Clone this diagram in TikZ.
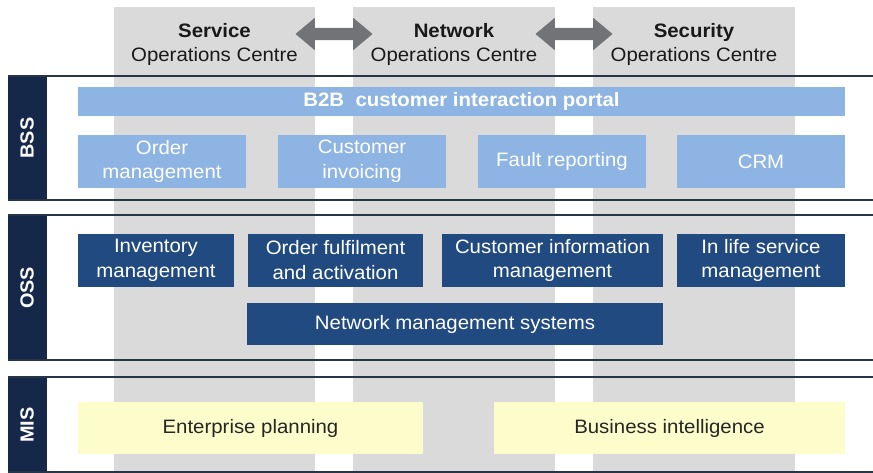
\documentclass[tikz,border=0pt]{standalone}
\usepackage{fontspec}
\setmainfont{Liberation Sans}[FakeStretch=1.05]
\usetikzlibrary{shapes.arrows}
\definecolor{colgray}{HTML}{DADADA}
\definecolor{arrgray}{HTML}{717376}
\definecolor{tabnavy}{HTML}{16284A}
\definecolor{linenavy}{HTML}{263648}
\definecolor{bsscol}{HTML}{8DB4E2}
\definecolor{osscol}{HTML}{214A80}
\definecolor{miscol}{HTML}{FDFDCB}
\tikzset{
	column/.style={fill=colgray},
	bandline/.style={draw=linenavy,line width=1.6bp},
	bandtab/.style={fill=tabnavy},
	bandlabel/.style={text=white,font=\fontsize{19}{22}\selectfont\bfseries,rotate=90},
	sysbox/.style={rectangle,inner sep=0pt,align=center,font=\fontsize{19.5}{25}\selectfont},
	bssbox/.style={sysbox,fill=bsscol,text=white},
	ossbox/.style={sysbox,fill=osscol,text=white},
	misbox/.style={sysbox,fill=miscol,text=black!85},
	headtxt/.style={align=center,text=black!90,font=\fontsize{19.5}{25}\selectfont},
	dblarrow/.style={double arrow,fill=arrgray,inner xsep=0pt,inner ysep=6bp,
		double arrow head extend=10bp,double arrow tip angle=80,minimum height=77bp,minimum width=32bp}
}
\begin{document}
\begin{tikzpicture}[x=1bp,y=-1bp]
	\useasboundingbox (0,0) rectangle (873,473);

	% Spalten der Operations Centres
	\fill[column] (114,7) rectangle (315,473);
	\fill[column] (353,7) rectangle (555,473);
	\fill[column] (593,7) rectangle (795,473);

	% Baender BSS / OSS / MIS
	\fill[bandtab] (8,76) rectangle (47,200);
	\fill[bandtab] (8,215) rectangle (47,360);
	\fill[bandtab] (8,377) rectangle (47,472);
	\draw[bandline] (8,76) -- (873,76) (8,200) -- (873,200);
	\draw[bandline] (8,215) -- (873,215) (8,360) -- (873,360);
	\draw[bandline] (8,377) -- (873,377) (8,472) -- (873,472);
	\node[bandlabel] (bss) at (27,138) {BSS};
	\node[bandlabel] (oss) at (27,288) {OSS};
	\node[bandlabel] (mis) at (27,425) {MIS};

	% Kopfzeile
	\node[headtxt] (svc) at (214.5,44.5) {\textbf{Service}\\Operations Centre};
	\node[headtxt] (net) at (454,44.5) {\textbf{Network}\\Operations Centre};
	\node[headtxt] (sec) at (694,44.5) {\textbf{Security}\\Operations Centre};
	\node[dblarrow] (svcnet) at (334,34) {};
	\node[dblarrow] (netsec) at (574,34) {};

	% BSS
	\node[bssbox,minimum width=767bp,minimum height=29bp] (portal) at (461.5,101.5) {\textbf{B2B\ \ customer interaction portal}};
	\node[bssbox,minimum width=168bp,minimum height=53bp] (order) at (162,161.5) {Order\\management};
	\node[bssbox,minimum width=168bp,minimum height=53bp] (invoice) at (362,161.5) {Customer\\invoicing};
	\node[bssbox,minimum width=168bp,minimum height=53bp] (fault) at (562,161.5) {Fault reporting};
	\node[bssbox,minimum width=168bp,minimum height=53bp] (crm) at (761,161.5) {CRM};

	% OSS
	\node[ossbox,minimum width=156bp,minimum height=53bp] (inventory) at (156,260.5) {Inventory\\management};
	\node[ossbox,minimum width=175bp,minimum height=53bp] (fulfil) at (335.5,260.5) {Order fulfilment\\and activation};
	\node[ossbox,minimum width=221bp,minimum height=53bp] (custinfo) at (552.5,260.5) {Customer information\\management};
	\node[ossbox,minimum width=168bp,minimum height=53bp] (inlife) at (761,260.5) {In life service\\management};
	\node[ossbox,minimum width=416bp,minimum height=42bp] (nms) at (455,324) {Network management systems};

	% MIS
	\node[misbox,minimum width=345bp,minimum height=52bp] (planning) at (250.5,428) {Enterprise planning};
	\node[misbox,minimum width=351bp,minimum height=52bp] (bi) at (669.5,428) {Business intelligence};

\end{tikzpicture}
\end{document}
